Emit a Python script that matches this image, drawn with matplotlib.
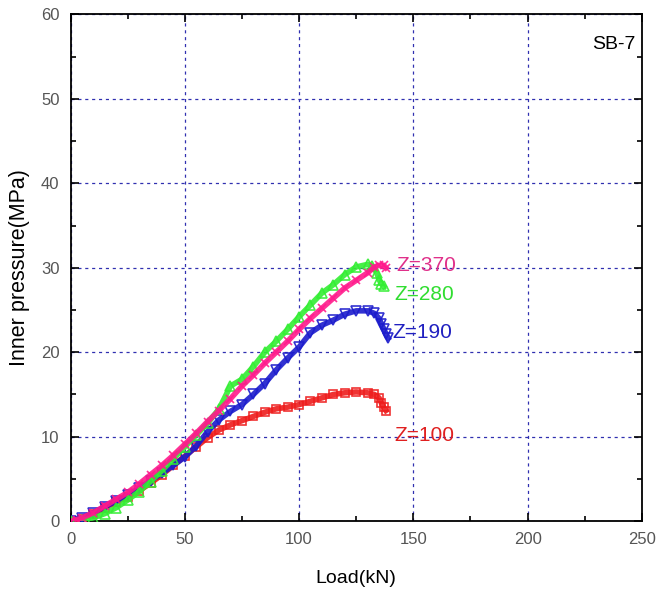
import matplotlib
matplotlib.use("Agg")
import matplotlib.pyplot as plt
from matplotlib.ticker import MultipleLocator

plt.rcParams['font.family'] = ['Liberation Sans', 'DejaVu Sans']

# Z=100
load_100 = [1, 5, 10, 15, 20, 25, 30, 35, 40, 45, 50, 55, 60, 65, 70, 75, 80, 85,
            90, 95, 100, 105, 110, 115, 120, 125, 130, 133, 135, 136, 137, 138]
p_100 = [0.0, 0.3, 0.9, 1.6, 2.3, 2.9, 3.6, 4.5, 5.5, 6.6, 7.7, 8.8, 9.9, 10.8, 11.4,
         11.9, 12.4, 12.9, 13.3, 13.5, 13.8, 14.2, 14.6, 15.0, 15.2, 15.3, 15.2, 15.0,
         14.6, 14.0, 13.5, 13.1]
# Z=190
load_190 = [0, 5, 10, 15, 20, 25, 30, 35, 40, 45, 50, 55, 60, 65, 70, 75, 80, 85, 90,
            95, 100, 105, 110, 115, 120, 125, 130, 133, 135, 136, 137, 138, 139]
p_190 = [0.0, 0.4, 1.0, 1.7, 2.4, 3.1, 3.9, 4.8, 5.7, 6.6, 7.6, 8.9, 10.6, 12.0, 13.0,
         13.8, 15.0, 16.3, 17.9, 19.3, 20.6, 22.3, 23.2, 23.8, 24.5, 24.9, 24.9, 24.6,
         24.0, 23.4, 22.8, 22.2, 21.7]
# Z=280
load_280 = [0, 5, 10, 15, 20, 25, 30, 35, 40, 45, 50, 55, 60, 65, 70, 75, 80, 85, 90,
            95, 100, 105, 110, 115, 120, 125, 130, 132, 134, 135, 136, 137]
p_280 = [0.0, 0.1, 0.4, 0.9, 1.6, 2.5, 3.5, 4.7, 6.0, 7.4, 8.8, 10.2, 11.6, 13.3, 16.0,
         16.8, 18.3, 20.0, 21.3, 22.7, 24.2, 25.6, 27.0, 28.0, 29.2, 30.1, 30.4, 30.2,
         29.4, 28.6, 28.1, 27.8]
# Z=370
load_370 = [0, 3, 5, 10, 15, 20, 25, 30, 35, 40, 45, 50, 55, 60, 65, 70, 75, 80, 85, 90,
            95, 100, 105, 110, 115, 120, 125, 130, 133, 135, 137, 138]
p_370 = [0.0, 0.2, 0.4, 1.0, 1.8, 2.6, 3.4, 4.4, 5.5, 6.6, 7.8, 9.1, 10.4, 11.8, 13.1,
         14.5, 16.0, 17.3, 18.7, 20.0, 21.3, 22.7, 24.0, 25.2, 26.4, 27.6, 28.5, 29.4,
         30.1, 30.3, 30.3, 30.0]

labels = ["Z=100", "Z=190", "Z=280", "Z=370"]
label_pos = [(141.5, 10.1), (141, 22.3), (141.5, 26.8), (142.5, 30.3)]

fig = plt.figure(figsize=(6.59, 5.95), dpi=100)
ax = fig.add_axes([0.107, 0.124, 0.867, 0.852])

series = [
    (load_100, p_100, '#ee1c1c', 's', 6),
    (load_190, p_190, '#1c1ccc', 'v', 6.5),
    (load_280, p_280, '#33ee33', '^', 6.5),
    (load_370, p_370, '#ff1a8c', 'x', 6),
]
for (x, y, c, m, ms) in series:
    ax.plot(x, y, color=c, lw=4, marker=m, ms=ms, mfc='none', mec=c, mew=1.2,
            alpha=0.9, zorder=3)

label_colors = ['#e02020', '#2020c0', '#30dd30', '#e0308a']
for lab, (lx, ly), c in zip(labels, label_pos, label_colors):
    ax.text(lx, ly, lab, color=c, fontsize=15, va='center', ha='left')

ax.set_xlim(0, 250)
ax.set_ylim(0, 60)
ax.xaxis.set_major_locator(MultipleLocator(50))
ax.xaxis.set_minor_locator(MultipleLocator(25))
ax.yaxis.set_major_locator(MultipleLocator(10))
ax.yaxis.set_minor_locator(MultipleLocator(5))
ax.tick_params(which='both', direction='in', top=True, right=True,
               labelcolor='#555555', labelsize=12, width=1.2)
ax.tick_params(which='major', length=6, pad=8)
ax.tick_params(which='minor', length=3.5)
for s in ax.spines.values():
    s.set_linewidth(1.3)

ax.grid(True, which='major', color='#3030b0', linestyle=(0, (2.5, 3)), lw=0.9)
ax.set_axisbelow(True)

ax.set_xlabel('Load(kN)', fontsize=14, labelpad=16)
ax.set_ylabel('Inner pressure(MPa)', fontsize=15.5, labelpad=8)
ax.text(0.988, 0.94, 'SB-7', transform=ax.transAxes, ha='right', va='center',
        fontsize=14)

fig.savefig('out.png', dpi=100)
